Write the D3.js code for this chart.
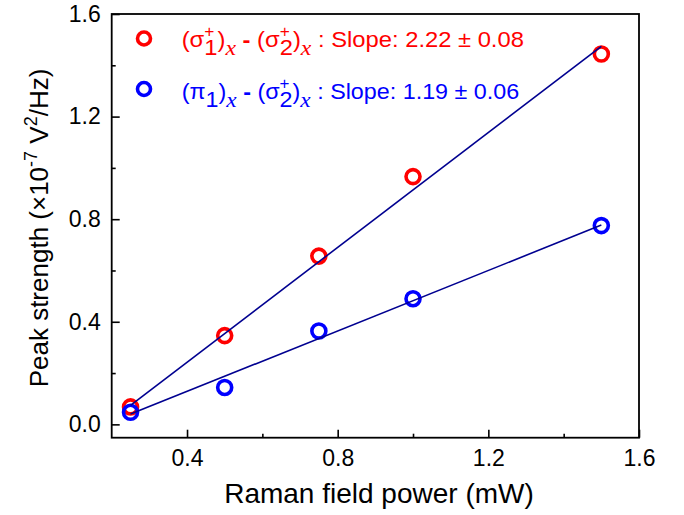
<!DOCTYPE html>
<html>
<head>
<meta charset="utf-8">
<script src="https://cdn.jsdelivr.net/npm/d3@7"></script>
<style>
  html, body { margin: 0; padding: 0; background: #fff; }
  svg { display: block; }
</style>
</head>
<body>
<svg id="chart" width="684" height="515"></svg>
<script>
// ---- data ----
const power = [0.25, 0.5, 0.75, 1.0, 1.5];
const sigmaSigma = [0.068, 0.346, 0.656, 0.966, 1.444];
const piSigma = [0.047, 0.144, 0.364, 0.490, 0.775];
const fitPower = [0.25, 1.5];
const fitSigmaSigma = [0.074, 1.474];
const fitPiSigma = [0.040, 0.777];
const xMajor = [0.4, 0.8, 1.2, 1.6];
const xMinor = [0.6, 1.0, 1.4];
const yMajor = [0.0, 0.4, 0.8, 1.2, 1.6];
const yMinor = [0.2, 0.6, 1.0, 1.4];

const RED = "#ff0000", BLUE = "#0000ff", LINE = "#000090";
const SANS = "'Liberation Sans', Arial, sans-serif";
const SERIF = "'Liberation Serif', 'Times New Roman', serif";

const svg = d3.select("#chart");
const L = 111.7, R = 639, T = 14, B = 437.7;
const x = d3.scaleLinear().domain([0.2, 1.6]).range([L, R]);
const y = d3.scaleLinear().domain([-0.052, 1.6]).range([B, T]);

// ---- axes ----
const fmt = d3.format(".1f");
function styleAxis(g) {
  g.select(".domain").remove();
  g.selectAll("line").attr("stroke", "#000").attr("stroke-width", 1.6);
  g.selectAll("text").attr("font-family", SANS).attr("font-size", 23).attr("fill", "#000");
}
svg.append("g").attr("transform", `translate(0,${B})`)
  .call(d3.axisBottom(x).tickValues(xMajor).tickFormat(fmt).tickSizeInner(-8).tickSizeOuter(0).tickPadding(12))
  .call(styleAxis);
svg.append("g").attr("transform", `translate(0,${B})`)
  .call(d3.axisBottom(x).tickValues(xMinor).tickFormat("").tickSizeInner(-4).tickSizeOuter(0))
  .call(styleAxis);
svg.append("g").attr("transform", `translate(${L},0)`)
  .call(d3.axisLeft(y).tickValues(yMajor).tickFormat(fmt).tickSizeInner(-8).tickSizeOuter(0).tickPadding(11))
  .call(styleAxis);
svg.append("g").attr("transform", `translate(${L},0)`)
  .call(d3.axisLeft(y).tickValues(yMinor).tickFormat("").tickSizeInner(-4).tickSizeOuter(0))
  .call(styleAxis);

// frame
svg.append("rect").attr("x", L).attr("y", T).attr("width", R - L).attr("height", B - T)
  .attr("fill", "none").attr("stroke", "#000").attr("stroke-width", 1.8);

// ---- markers ----
function drawPoints(vals, color) {
  svg.append("g").selectAll("circle").data(power.map((p, i) => [p, vals[i]])).join("circle")
    .attr("cx", d => x(d[0])).attr("cy", d => y(d[1])).attr("r", 7)
    .attr("fill", "none").attr("stroke", color).attr("stroke-width", 3.6);
}
drawPoints(sigmaSigma, RED);
drawPoints(piSigma, BLUE);

// ---- fit lines ----
const line = d3.line().x(d => x(d[0])).y(d => y(d[1]));
[fitSigmaSigma, fitPiSigma].forEach(f => {
  svg.append("path").datum(fitPower.map((p, i) => [p, f[i]])).attr("d", line)
    .attr("fill", "none").attr("stroke", LINE).attr("stroke-width", 1.6);
});

// ---- legend ----
function richText(x0, y0, pieces, color, targetRight) {
  const grp = svg.append("g");
  let cx = x0, prevStart = x0, prevEnd = x0;
  pieces.forEach(p => {
    const start = p.stack ? prevStart : cx;
    const t = grp.append("text").attr("x", start).attr("y", y0 + (p.dy || 0))
      .attr("font-family", p.serif ? SERIF : SANS).attr("font-size", p.size || 22)
      .attr("font-style", p.italic ? "italic" : null).attr("font-weight", p.bold ? "bold" : null)
      .attr("fill", color).text(p.t);
    const w = t.node().getComputedTextLength();
    if (p.stack) { cx = Math.max(prevEnd, start + w); }
    else { prevStart = start; prevEnd = start + w; cx = start + w; }
  });
  const bb = grp.node().getBBox();
  const s = (targetRight - x0) / (bb.x + bb.width - x0);
  grp.attr("transform", `translate(${x0},0) scale(${s},1) translate(${-x0},0)`);
}
const NB = "\u00A0";
const sub = (t) => ({ t, dy: 8 });
const sup = (t) => ({ t, dy: -10, size: 16, stack: true });
const xsub = { t: "x", dy: 8, serif: true, italic: true, size: 22 };
const dash = [{ t: NB }, { t: "-", bold: true }, { t: NB }];

svg.append("circle").attr("cx", 144).attr("cy", 38.5).attr("r", 6.5)
  .attr("fill", "none").attr("stroke", RED).attr("stroke-width", 3.6);
svg.append("circle").attr("cx", 144).attr("cy", 89).attr("r", 6.5)
  .attr("fill", "none").attr("stroke", BLUE).attr("stroke-width", 3.6);

richText(181.7, 47.5, [
  { t: "(σ" }, sub("1"), sup("+"), { t: ")" }, xsub, ...dash,
  { t: "(σ" }, sub("2"), sup("+"), { t: ")" }, xsub,
  { t: NB + ":" + NB + "Slope:" + NB + "2.22" + NB + "±" + NB + "0.08" }
], RED, 524);

richText(181.7, 99, [
  { t: "(π" }, sub("1"), { t: ")" }, xsub, ...dash,
  { t: "(σ" }, sub("2"), sup("+"), { t: ")" }, xsub,
  { t: NB + ":" + NB + "Slope:" + NB + "1.19" + NB + "±" + NB + "0.06" }
], BLUE, 519.3);

// ---- axis titles ----
svg.append("text").attr("x", 379).attr("y", 502.7).attr("text-anchor", "middle")
  .attr("font-family", SANS).attr("font-size", 28).attr("fill", "#000")
  .text("Raman field power (mW)");

const yt = svg.append("text").attr("transform", "translate(48.3,228) rotate(-90)")
  .attr("text-anchor", "middle").attr("font-family", SANS).attr("font-size", 26).attr("fill", "#000");
yt.append("tspan").text("Peak strength (×10");
yt.append("tspan").attr("dy", -11).attr("font-size", 18).text("-7");
yt.append("tspan").attr("dy", 11).text(NB + "V");
yt.append("tspan").attr("dy", -11).attr("font-size", 18).text("2");
yt.append("tspan").attr("dy", 11).text("/Hz)");
</script>
</body>
</html>
